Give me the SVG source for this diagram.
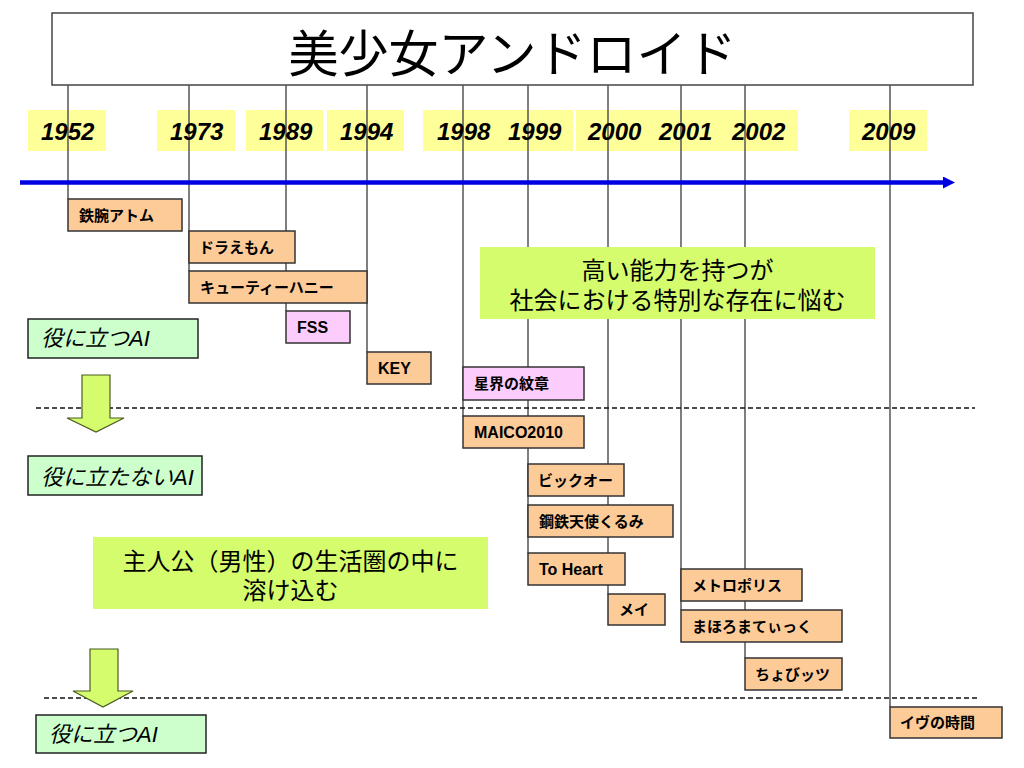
<svg xmlns="http://www.w3.org/2000/svg" width="1024" height="768" viewBox="0 0 1024 768">
<defs>
<style>
.title{font-family:"Noto Sans CJK JP","Liberation Sans",sans-serif;font-size:50px;fill:#000}
.year{font-family:"Liberation Sans","Noto Sans CJK JP",sans-serif;font-size:24px;font-weight:bold;font-style:italic;fill:#000}
.ybox{fill:#ffff99}
.vline{stroke:#555;stroke-width:1.5;fill:none}
.dash{stroke:#111;stroke-width:1.3;stroke-dasharray:5 3;fill:none}
.node{fill:#fccb98;stroke:#333;stroke-width:1.5}
.pink{fill:#fcccfc;stroke:#333;stroke-width:1.5}
.nt{font-family:"Liberation Sans","Noto Sans CJK JP",sans-serif;font-size:15px;font-weight:bold;fill:#000}
.nl{font-family:"Liberation Sans","Noto Sans CJK JP",sans-serif;font-size:16px;font-weight:bold;fill:#000}
.ai{fill:#ccffcc;stroke:#222;stroke-width:1.5}
.ait{font-family:"Liberation Sans","Noto Sans CJK JP",sans-serif;font-size:22px;font-style:italic;fill:#000}
.note{fill:#d4fc6c}
.nott{font-family:"Liberation Sans","Noto Sans CJK JP",sans-serif;font-size:24px;fill:#000;text-anchor:middle}
.arr{fill:#d4fc6c;stroke:#4a5a20;stroke-width:1.2}
</style>
<marker id="bh" markerWidth="12" markerHeight="12" refX="0" refY="6" orient="auto" markerUnits="userSpaceOnUse">
<path d="M0,0 L12,6 L0,12 Z" fill="#0000e0"/>
</marker>
</defs>

<g id="title">
<rect x="52" y="13" width="921" height="72" fill="#fff" stroke="#444" stroke-width="1.5"/>
<text class="title" x="512.5" y="72" text-anchor="middle">美少女アンドロイド</text>
</g>

<g id="year-boxes">
<rect class="ybox" x="28" y="110" width="78" height="41"/>
<rect class="ybox" x="157" y="110" width="78" height="41"/>
<rect class="ybox" x="246" y="110" width="77" height="41"/>
<rect class="ybox" x="327" y="110" width="77" height="41"/>
<rect class="ybox" x="423" y="110" width="150" height="41"/>
<rect class="ybox" x="576" y="110" width="222" height="41"/>
<rect class="ybox" x="849" y="110" width="78" height="41"/>
</g>

<g id="connectors">
<line class="vline" x1="68" y1="85" x2="68" y2="199"/>
<line class="vline" x1="189" y1="85" x2="189" y2="271"/>
<line class="vline" x1="286" y1="85" x2="286" y2="311"/>
<line class="vline" x1="367" y1="85" x2="367" y2="352"/>
<line class="vline" x1="463" y1="85" x2="463" y2="417"/>
<line class="vline" x1="528" y1="85" x2="528" y2="553"/>
<line class="vline" x1="608" y1="85" x2="608" y2="594"/>
<line class="vline" x1="681" y1="85" x2="681" y2="610"/>
<line class="vline" x1="745" y1="85" x2="745" y2="658"/>
<line class="vline" x1="890" y1="85" x2="890" y2="707"/>
<line x1="20" y1="182.5" x2="943" y2="182.5" stroke="#0000e0" stroke-width="4.5" marker-end="url(#bh)"/>
<line class="dash" x1="36" y1="408" x2="975" y2="408"/>
<line class="dash" x1="44" y1="698" x2="978" y2="698"/>
</g>

<g id="years">
<text class="year" x="41" y="140">1952</text>
<text class="year" x="170" y="140">1973</text>
<text class="year" x="259" y="140">1989</text>
<text class="year" x="340" y="140">1994</text>
<text class="year" x="437" y="140">1998</text>
<text class="year" x="508" y="140">1999</text>
<text class="year" x="588" y="140">2000</text>
<text class="year" x="659" y="140">2001</text>
<text class="year" x="732" y="140">2002</text>
<text class="year" x="862" y="140">2009</text>
</g>

<g id="n-atom"><rect class="node" x="68" y="199" width="114" height="32"/><text class="nt" x="79" y="221">鉄腕アトム</text></g>
<g id="n-doraemon"><rect class="node" x="189" y="231" width="106" height="32"/><text class="nt" x="199" y="253">ドラえもん</text></g>
<g id="n-honey"><rect class="node" x="189" y="271" width="178" height="32"/><text class="nt" x="200" y="293">キューティーハニー</text></g>
<g id="n-fss"><rect class="pink" x="286" y="311" width="64" height="32"/><text class="nl" x="297" y="333">FSS</text></g>
<g id="n-key"><rect class="node" x="367" y="352" width="64" height="32"/><text class="nl" x="378" y="374">KEY</text></g>
<g id="n-seikai"><rect class="pink" x="463" y="367" width="121" height="33"/><text class="nt" x="474" y="389">星界の紋章</text></g>
<g id="n-maico"><rect class="node" x="463" y="416" width="121" height="32"/><text class="nl" x="474" y="438">MAICO2010</text></g>
<g id="n-bigo"><rect class="node" x="528" y="464" width="96" height="32"/><text class="nt" x="538" y="486">ビックオー</text></g>
<g id="n-kurumi"><rect class="node" x="528" y="505" width="145" height="32"/><text class="nt" x="539" y="527">鋼鉄天使くるみ</text></g>
<g id="n-toheart"><rect class="node" x="528" y="553" width="97" height="32"/><text class="nl" x="539" y="575">To Heart</text></g>
<g id="n-mei"><rect class="node" x="608" y="594" width="57" height="31"/><text class="nt" x="619" y="615">メイ</text></g>
<g id="n-metropolis"><rect class="node" x="681" y="569" width="121" height="32"/><text class="nt" x="692" y="591">メトロポリス</text></g>
<g id="n-mahoro"><rect class="node" x="681" y="610" width="161" height="32"/><text class="nt" x="692" y="632">まほろまてぃっく</text></g>
<g id="n-chobits"><rect class="node" x="745" y="658" width="97" height="32"/><text class="nt" x="755" y="680">ちょびッツ</text></g>
<g id="n-eve"><rect class="node" x="890" y="707" width="112" height="31"/><text class="nt" x="900" y="728">イヴの時間</text></g>

<g id="l-useful1"><rect class="ai" x="28" y="319" width="170" height="39"/><text class="ait" x="41" y="346">役に立つAI</text></g>
<g id="a-1"><path class="arr" d="M82,375 H110 V418 H124 L96,432 L67,418 H82 Z"/></g>
<g id="l-useless"><rect class="ai" x="28" y="456" width="174" height="39"/><text class="ait" x="41" y="485">役に立たないAI</text></g>
<g id="a-2"><path class="arr" d="M90,649 H118 V691 H133 L103,707 L73,691 H90 Z"/></g>
<g id="l-useful2"><rect class="ai" x="36" y="715" width="170" height="38"/><text class="ait" x="49" y="742">役に立つAI</text></g>

<g id="note-1"><rect class="note" x="480" y="247" width="395" height="72"/>
<text class="nott" x="677.5" y="279">高い能力を持つが</text>
<text class="nott" x="677.5" y="309">社会における特別な存在に悩む</text></g>
<g id="note-2"><rect class="note" x="93" y="537" width="395" height="72"/>
<text class="nott" x="290.5" y="570">主人公（男性）の生活圏の中に</text>
<text class="nott" x="290.5" y="599">溶け込む</text></g>
</svg>
